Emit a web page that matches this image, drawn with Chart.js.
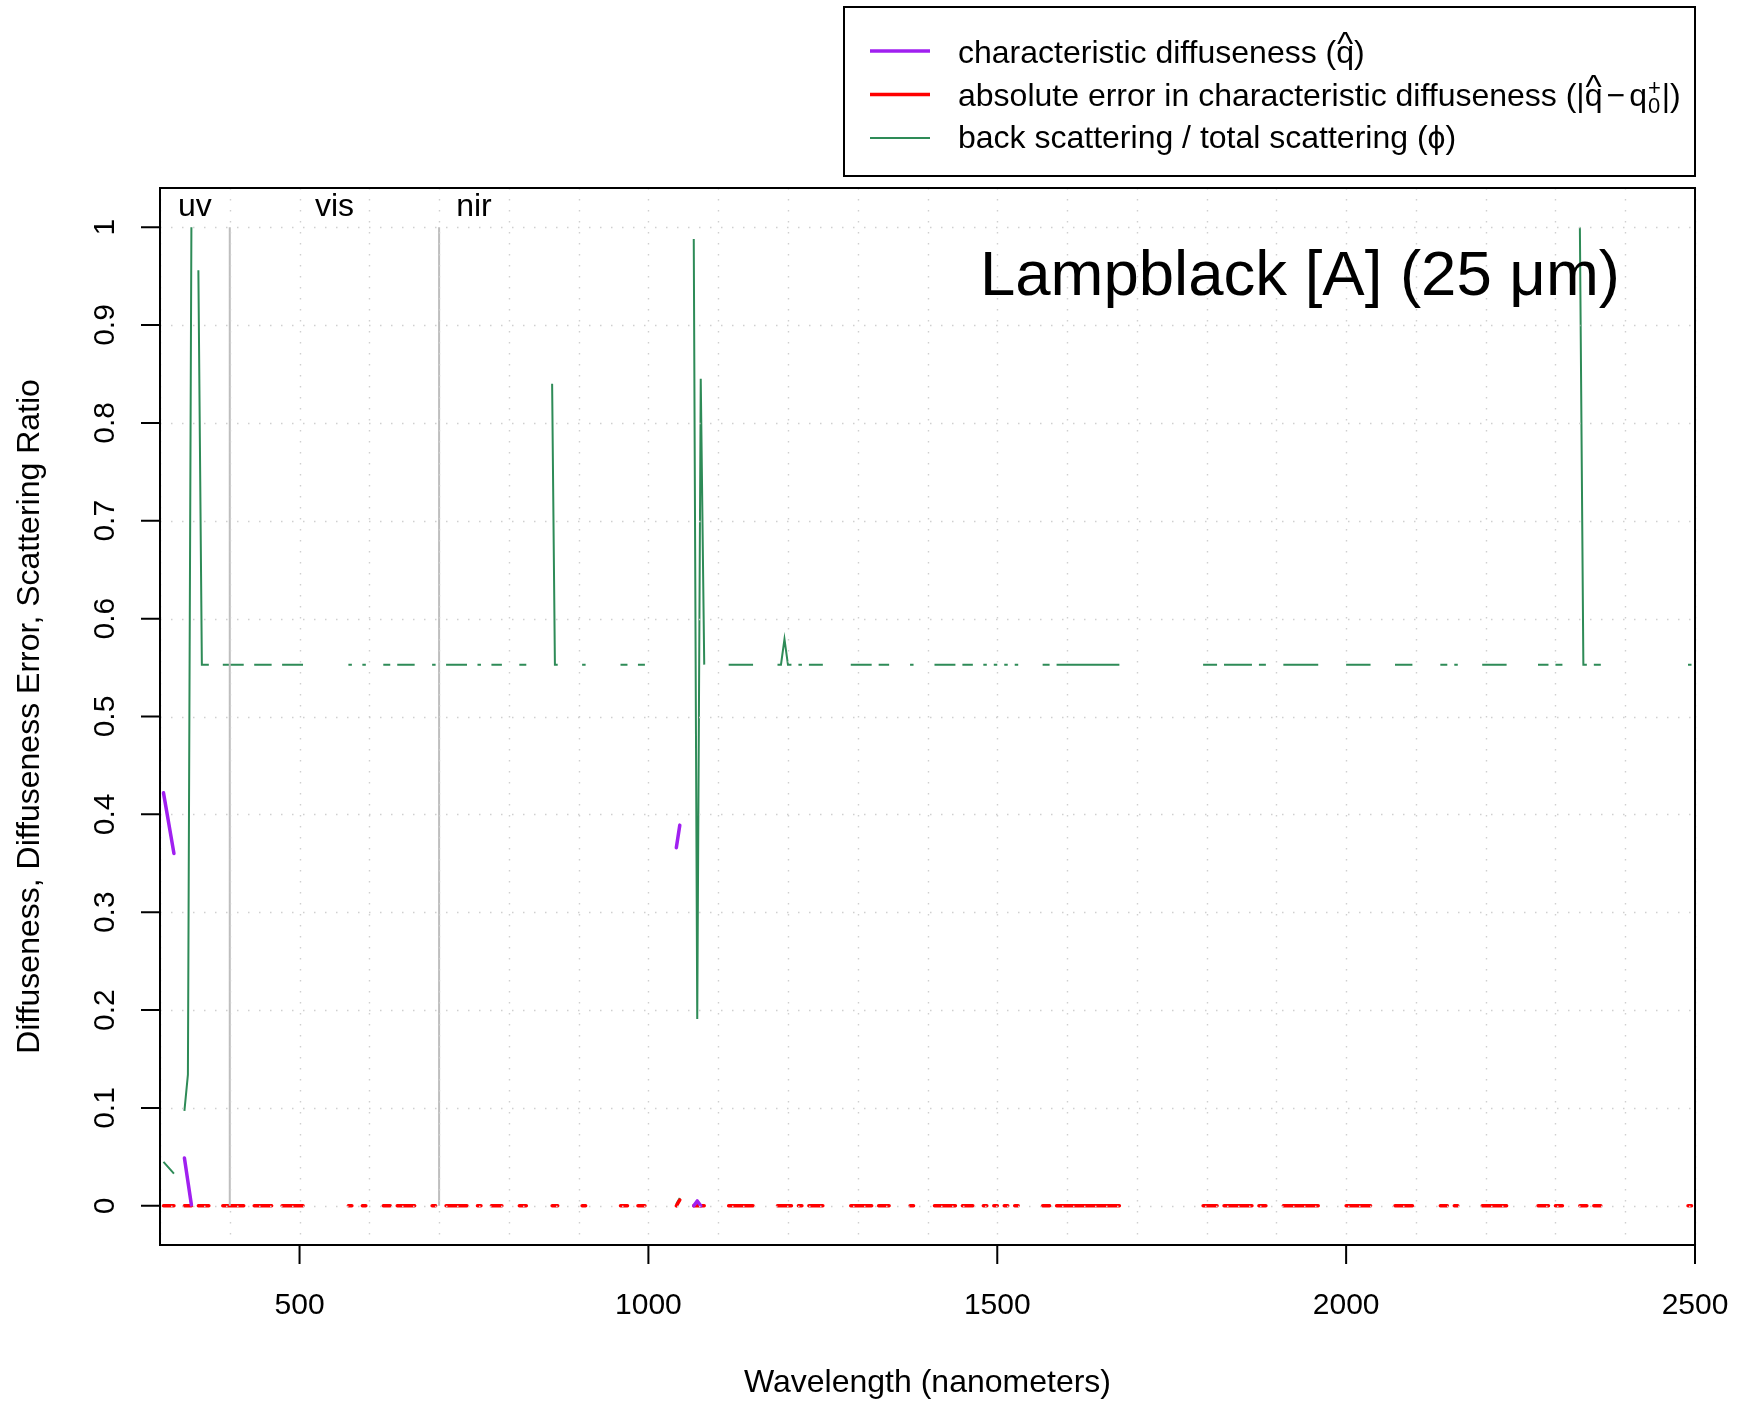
<!DOCTYPE html>
<html><head><meta charset="utf-8">
<script src="https://cdn.jsdelivr.net/npm/chart.js@4.4.1/dist/chart.umd.min.js"></script>
<style>html,body{margin:0;padding:0;background:#fff}canvas{display:block}</style>
</head><body>
<canvas id="c" width="1745" height="1401"></canvas>
<script>
// ---------------- data ----------------
// shared wavelength grid (nm) for phi and absolute error; null = gap (missing data)
const wavelength = [
  305, 320, null,
  335, 340, 345, null,
  355, 360, 370, null,
  390, 420, null,
  435, 460, null,
  475, 505, null,
  570, 575, null,
  590, 595, null,
  620, 630, null,
  640, 665, null,
  690, 695, null,
  710, 740, null,
  755, 760, null,
  775, 790, null,
  815, 825, null,
  862, 866, 870, null,
  905, 910, null,
  960, 970, null,
  985, 995, null,
  1040, 1045, null,
  1065, 1070, 1075, 1080, null,
  1115, 1150, null,
  1185, 1190, 1195, 1200, 1205, null,
  1215, 1220, null,
  1230, 1250, null,
  1290, 1320, null,
  1330, 1345, null,
  1375, 1380, null,
  1410, 1440, null,
  1450, 1465, null,
  1480, 1485, null,
  1495, 1500, null,
  1510, 1515, null,
  1525, 1530, null,
  1565, 1575, null,
  1585, 1675, null,
  1795, 1815, null,
  1825, 1865, null,
  1875, 1885, null,
  1910, 1960, null,
  2000, 2035, null,
  2070, 2095, null,
  2135, 2145, null,
  2155, 2160, null,
  2195, 2230, null,
  2275, 2290, null,
  2300, 2310, null,
  2335, 2340, 2345, null,
  2355, 2365, null,
  2490, 2495
];
// back scattering / total scattering (phi)
const phi = [
  0.045, 0.033, null,
  0.097, 0.134, 1.000, null,
  0.956, 0.553, 0.553, null,
  0.553, 0.553, null,
  0.553, 0.553, null,
  0.553, 0.553, null,
  0.553, 0.553, null,
  0.553, 0.553, null,
  0.553, 0.553, null,
  0.553, 0.553, null,
  0.553, 0.553, null,
  0.553, 0.553, null,
  0.553, 0.553, null,
  0.553, 0.553, null,
  0.553, 0.553, null,
  0.840, 0.553, 0.553, null,
  0.553, 0.553, null,
  0.553, 0.553, null,
  0.553, 0.553, null,
  0.002, 0.008, null,
  0.988, 0.191, 0.845, 0.553, null,
  0.553, 0.553, null,
  0.553, 0.553, 0.579, 0.553, 0.553, null,
  0.553, 0.553, null,
  0.553, 0.553, null,
  0.553, 0.553, null,
  0.553, 0.553, null,
  0.553, 0.553, null,
  0.553, 0.553, null,
  0.553, 0.553, null,
  0.553, 0.553, null,
  0.553, 0.553, null,
  0.553, 0.553, null,
  0.553, 0.553, null,
  0.553, 0.553, null,
  0.553, 0.553, null,
  0.553, 0.553, null,
  0.553, 0.553, null,
  0.553, 0.553, null,
  0.553, 0.553, null,
  0.553, 0.553, null,
  0.553, 0.553, null,
  0.553, 0.553, null,
  0.553, 0.553, null,
  0.553, 0.553, null,
  0.553, 0.553, null,
  0.553, 0.553, null,
  1.000, 0.553, 0.553, null,
  0.553, 0.553, null,
  0.553, 0.553
];
// absolute error in characteristic diffuseness
const absErr = [
  0, 0, null,
  0, 0, 0, null,
  0, 0, 0, null,
  0, 0, null,
  0, 0, null,
  0, 0, null,
  0, 0, null,
  0, 0, null,
  0, 0, null,
  0, 0, null,
  0, 0, null,
  0, 0, null,
  0, 0, null,
  0, 0, null,
  0, 0, null,
  0, 0, 0, null,
  0, 0, null,
  0, 0, null,
  0, 0, null,
  0.000, 0.006, null,
  0, 0, 0, 0, null,
  0, 0, null,
  0, 0, 0, 0, 0, null,
  0, 0, null,
  0, 0, null,
  0, 0, null,
  0, 0, null,
  0, 0, null,
  0, 0, null,
  0, 0, null,
  0, 0, null,
  0, 0, null,
  0, 0, null,
  0, 0, null,
  0, 0, null,
  0, 0, null,
  0, 0, null,
  0, 0, null,
  0, 0, null,
  0, 0, null,
  0, 0, null,
  0, 0, null,
  0, 0, null,
  0, 0, null,
  0, 0, null,
  0, 0, null,
  0, 0, null,
  0, 0, 0, null,
  0, 0, null,
  0, 0
];
// characteristic diffuseness (q hat)
const qWavelength = [305, 320, null, 335, 340, 345, null, 1040, 1045, null, 1065, 1070, 1075];
const qHat        = [0.422, 0.360, null, 0.049, 0.025, 0.001, null, 0.366, 0.389, null, 0.000, 0.005, 0.000];

// spectral region boundaries and labels
const regionEdges = [400, 700];
const regionEdgeSpan = [0, 1];
const regionLabels = ['uv', 'vis', 'nir'];
const regionLabelAt = [350, 550, 750];

// axes
const xGrid = [300,400,500,600,700,800,900,1000,1100,1200,1300,1400,1500,1600,1700,1800,1900,2000,2100,2200,2300,2400,2500];
const xTickVals = [500, 1000, 1500, 2000, 2500];
const xTickLabels = ['500', '1000', '1500', '2000', '2500'];
const yTickVals = [0, 0.1, 0.2, 0.3, 0.4, 0.5, 0.6, 0.7, 0.8, 0.9, 1];
const yTickLabels = ['0', '0.1', '0.2', '0.3', '0.4', '0.5', '0.6', '0.7', '0.8', '0.9', '1'];

const chartTitle = 'Lampblack [A] (25 \u03bcm)';
const xTitle = 'Wavelength (nanometers)';
const yTitle = 'Diffuseness, Diffuseness Error, Scattering Ratio';

// ---------------- styling ----------------
const PURPLE = '#A020F0', RED = '#FF0000', GREEN = '#2E8B57', GREY = '#BEBEBE';
const FAM = '"Liberation Sans", Arial, Helvetica, sans-serif';
const F = s => s + 'px ' + FAM;

function toPoints(xs, ys) {
  return xs.map((x, i) => ({ x: x === null ? xs[i - 1] : x, y: x === null ? null : ys[i] }));
}
function edgePoints(edges, span) {
  const pts = [];
  edges.forEach((e, i) => {
    if (i > 0) pts.push({ x: e, y: null });
    span.forEach(v => pts.push({ x: e, y: v }));
  });
  return pts;
}

function hatQ(ctx, x, base) {
  ctx.font = F(32);
  ctx.textAlign = 'left';
  ctx.fillText('q', x, base);
  const w = ctx.measureText('q').width;
  ctx.save();
  ctx.font = F(33);
  ctx.translate(x + w / 2, base - 8);
  ctx.scale(1.05, 1);
  ctx.textAlign = 'center';
  ctx.fillText('^', 0, 0);
  ctx.restore();
  return w;
}
function txt(ctx, s, x, base, size) {
  ctx.font = F(size || 32);
  ctx.textAlign = 'left';
  ctx.fillText(s, x, base);
  return ctx.measureText(s).width;
}

const deco = {
  id: 'deco',
  afterDatasetsDraw(chart) {
    const { ctx, chartArea: a, scales: { x, y } } = chart;
    ctx.save();
    // dotted grid (drawn over the data as in the reference)
    ctx.strokeStyle = '#CFCFCF';
    ctx.lineWidth = 1.4;
    ctx.setLineDash([1.5, 9.5]);
    xGrid.forEach(v => {
      const px = Math.round(x.getPixelForValue(v)) + 0.5;
      ctx.beginPath(); ctx.moveTo(px, a.top); ctx.lineTo(px, a.bottom); ctx.stroke();
    });
    yTickVals.forEach(v => {
      const py = Math.round(y.getPixelForValue(v)) + 0.5;
      ctx.beginPath(); ctx.moveTo(a.left, py); ctx.lineTo(a.right, py); ctx.stroke();
    });
    ctx.setLineDash([]);

    // plot box
    ctx.strokeStyle = '#000';
    ctx.lineWidth = 2;
    ctx.strokeRect(a.left, a.top, a.right - a.left, a.bottom - a.top);

    // ticks
    const TL = 19;
    ctx.beginPath();
    xTickVals.forEach(v => { const px = x.getPixelForValue(v); ctx.moveTo(px, a.bottom); ctx.lineTo(px, a.bottom + TL); });
    yTickVals.forEach(v => { const py = y.getPixelForValue(v); ctx.moveTo(a.left, py); ctx.lineTo(a.left - TL, py); });
    ctx.stroke();

    ctx.fillStyle = '#000';
    // x tick labels
    ctx.font = F(30);
    ctx.textAlign = 'center';
    ctx.textBaseline = 'alphabetic';
    xTickVals.forEach((v, i) => ctx.fillText(xTickLabels[i], x.getPixelForValue(v), a.bottom + 69));
    // y tick labels (rotated)
    yTickVals.forEach((v, i) => {
      ctx.save();
      ctx.translate(a.left - 46, y.getPixelForValue(v));
      ctx.rotate(-Math.PI / 2);
      ctx.fillText(yTickLabels[i], 0, 0);
      ctx.restore();
    });
    // axis titles
    ctx.font = F(32);
    ctx.fillText(xTitle, (a.left + a.right) / 2, 1392);
    ctx.save();
    ctx.translate(38.5, (a.top + a.bottom) / 2);
    ctx.rotate(-Math.PI / 2);
    ctx.fillText(yTitle, 0, 0);
    ctx.restore();

    // region labels
    ctx.font = F(32);
    regionLabels.forEach((s, i) => ctx.fillText(s, x.getPixelForValue(regionLabelAt[i]), y.getPixelForValue(1) - 11.5));

    // big title
    ctx.font = F(63.5);
    ctx.textAlign = 'right';
    ctx.fillText(chartTitle, 1620, 295);

    // legend
    const bx = 844, by = 7, bw = 851, bh = 169;
    ctx.lineWidth = 2;
    ctx.strokeStyle = '#000';
    ctx.strokeRect(bx, by, bw, bh);
    const rows = [51, 94.5, 138];
    const cols = [PURPLE, RED, GREEN];
    const lws = [3.5, 3.5, 2];
    rows.forEach((ry, i) => {
      ctx.beginPath(); ctx.moveTo(870, ry); ctx.lineTo(930, ry);
      ctx.strokeStyle = cols[i]; ctx.lineWidth = lws[i]; ctx.stroke();
    });
    ctx.fillStyle = '#000';
    const tx = 958;
    // row 1
    let b = 63, cx = tx;
    cx += txt(ctx, 'characteristic diffuseness (', cx, b);
    cx += hatQ(ctx, cx, b);
    cx += txt(ctx, ')', cx, b);
    // row 2
    b = 106; cx = tx;
    cx += txt(ctx, 'absolute error in characteristic diffuseness (|', cx, b);
    cx += hatQ(ctx, cx, b);
    cx += 4;
    cx += txt(ctx, '\u2212', cx, b);
    cx += 4;
    cx += txt(ctx, 'q', cx, b);
    const wSup = txt(ctx, '+', cx + 1, b - 11, 22);
    const wSub = txt(ctx, '0', cx + 1, b + 7, 22);
    cx += Math.max(wSup, wSub) + 2;
    cx += txt(ctx, '|)', cx, b);
    // row 3
    b = 148; cx = tx;
    txt(ctx, 'back scattering / total scattering (\u03d5)', cx, b);
    ctx.restore();
  }
};

new Chart(document.getElementById('c'), {
  type: 'line',
  data: {
    datasets: [
      { label: 'region edges', data: edgePoints(regionEdges, regionEdgeSpan), borderColor: GREY, borderWidth: 2, spanGaps: false },
      { label: 'characteristic diffuseness', data: toPoints(qWavelength, qHat), borderColor: PURPLE, borderWidth: 3.5, borderCapStyle: 'round', borderJoinStyle: 'round', spanGaps: false },
      { label: 'absolute error in characteristic diffuseness', data: toPoints(wavelength, absErr), borderColor: RED, borderWidth: 3.5, borderCapStyle: 'round', borderJoinStyle: 'round', spanGaps: false },
      { label: 'back scattering / total scattering', data: toPoints(wavelength, phi), borderColor: GREEN, borderWidth: 2, spanGaps: false }
    ]
  },
  options: {
    responsive: false,
    animation: false,
    devicePixelRatio: 1,
    layout: { padding: { left: 160, top: 188, right: 50, bottom: 156 } },
    plugins: { legend: { display: false }, tooltip: { enabled: false } },
    elements: { point: { radius: 0, hoverRadius: 0 }, line: { tension: 0, fill: false } },
    scales: {
      x: { type: 'linear', min: 300, max: 2500,
           ticks: { display: false, stepSize: 100 }, grid: { display: false, drawTicks: false }, border: { display: false },
           afterFit(s) { s.height = 0; } },
      y: { type: 'linear', min: -0.04, max: 1.04,
           ticks: { display: false, stepSize: 0.1, includeBounds: false }, grid: { display: false, drawTicks: false }, border: { display: false },
           afterFit(s) { s.width = 0; } }
    }
  },
  plugins: [deco]
});
</script>
</body></html>
